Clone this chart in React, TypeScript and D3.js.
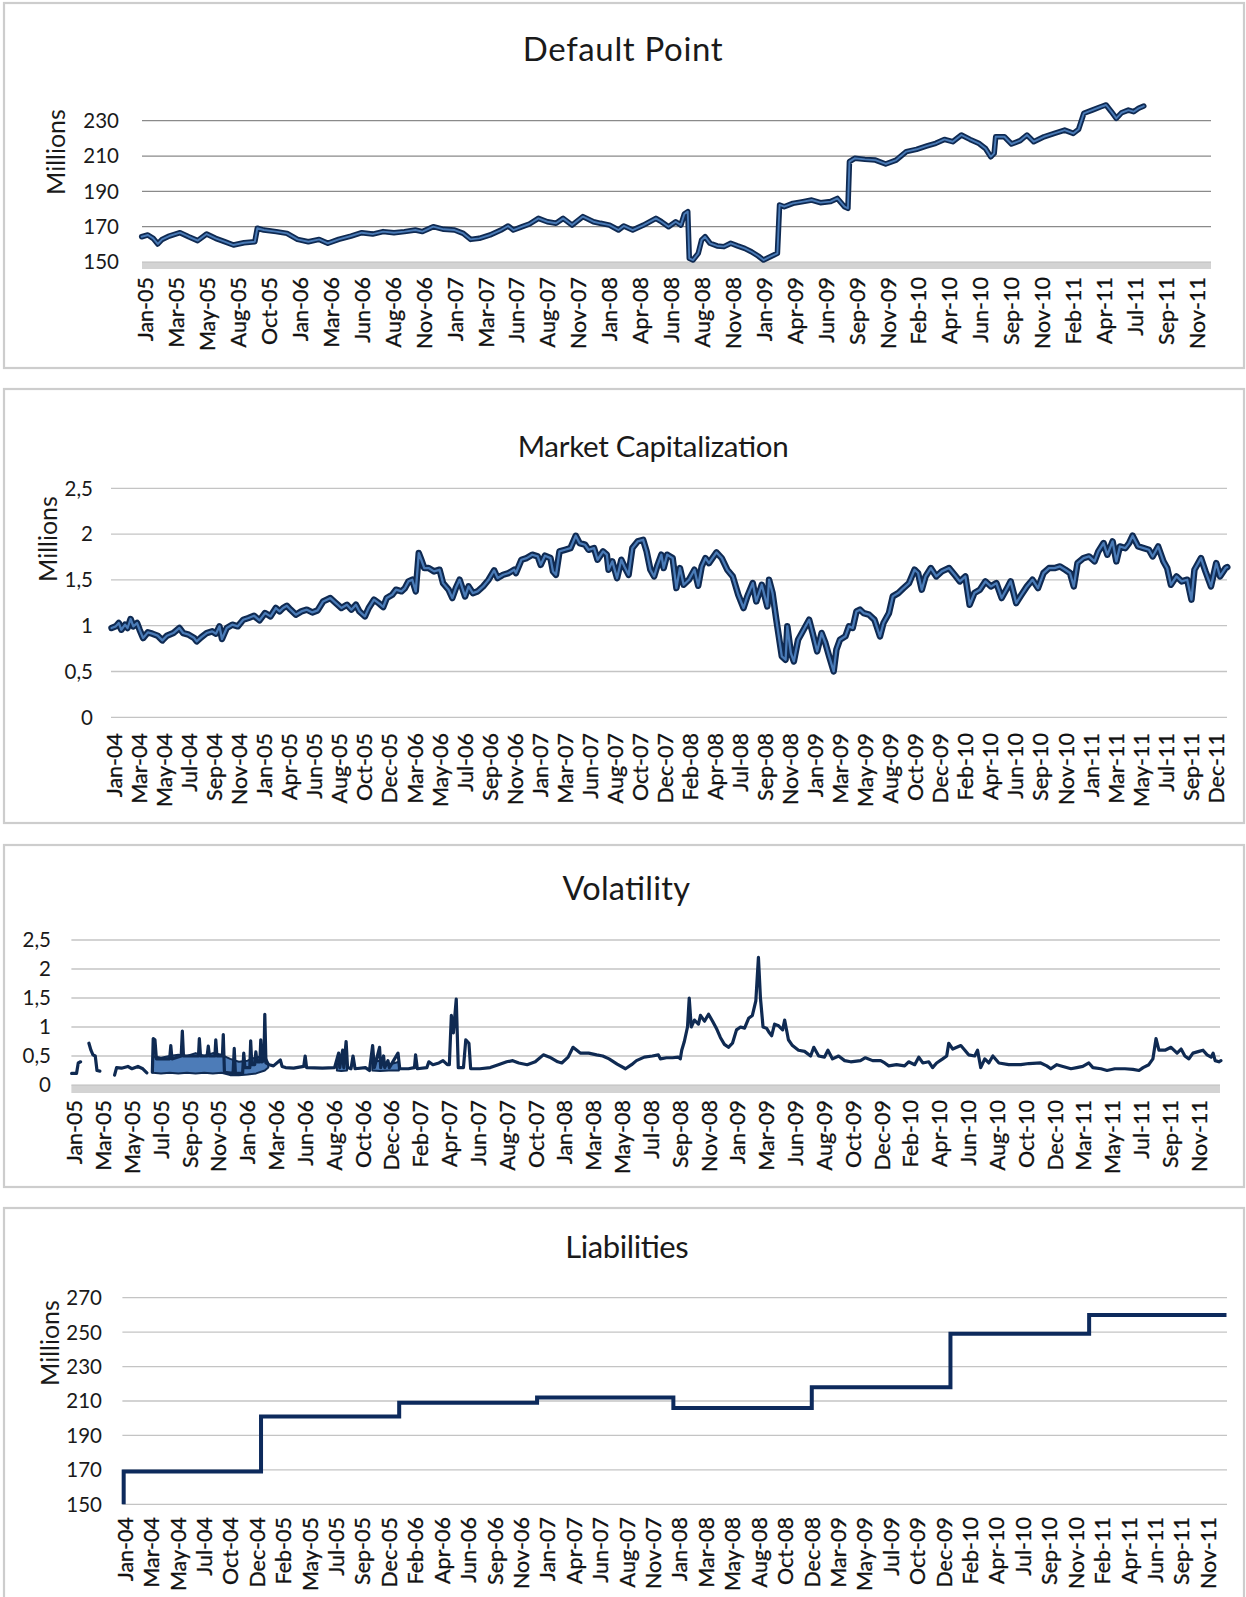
import React from "react";
import * as d3 from "d3";

// ---------------- DATA ----------------
// x positions are expressed in "label units": 0 = first category label, 1 = second label, ...

const dpLabels = ["Jan-05","Mar-05","May-05","Aug-05","Oct-05","Jan-06","Mar-06","Jun-06","Aug-06","Nov-06","Jan-07","Mar-07","Jun-07","Aug-07","Nov-07","Jan-08","Apr-08","Jun-08","Aug-08","Nov-08","Jan-09","Apr-09","Jun-09","Sep-09","Nov-09","Feb-10","Apr-10","Jun-10","Sep-10","Nov-10","Feb-11","Apr-11","Jul-11","Sep-11","Nov-11"];
const dpTicks = [150, 170, 190, 210, 230];
const dpSeries: [number, number][] = [
  [-0.13,164.3],[0.07,165.3],[0.24,163.4],[0.39,160.2],[0.53,162.8],[0.76,164.7],[1.11,166.6],[1.39,164.3],[1.68,162.1],[1.97,165.8],
  [2.26,163.4],[2.55,161.5],[2.84,159.6],[3.18,160.9],[3.53,161.5],[3.61,169.1],[3.82,168.1],[4.22,167.2],[4.57,166.2],[4.91,162.8],
  [5.26,161.5],[5.61,162.8],[5.89,160.6],[6.24,162.8],[6.64,164.7],[6.99,166.6],[7.34,165.8],[7.68,167.2],[8.03,166.6],[8.37,167.2],
  [8.72,168.1],[8.95,167.2],[9.3,170],[9.64,168.5],[9.99,168.1],[10.27,166.2],[10.51,162.8],[10.79,163.4],[11.14,165.3],[11.49,168.1],
  [11.72,170.4],[11.89,168.1],[12.18,170],[12.41,171.5],[12.7,174.7],[12.99,172.8],[13.27,171.9],[13.5,174.7],[13.79,170.9],[14.14,175.7],
  [14.48,172.8],[14.71,171.9],[15.0,170.9],[15.29,168.1],[15.46,170.4],[15.75,168.1],[16.1,170.9],[16.5,174.7],[16.68,172.8],[16.91,170],
  [17.14,172.8],[17.31,170.9],[17.42,177.2],[17.53,178.5],[17.58,152.1],[17.7,151.1],[17.87,154.9],[17.98,162.5],[18.09,164.3],[18.25,160.6],
  [18.48,159.1],[18.7,158.7],[18.92,160.6],[19.14,159.1],[19.37,157.7],[19.59,155.8],[19.81,153.4],[19.98,151.1],[20.2,153],[20.43,154.9],
  [20.5,182.3],[20.65,181.3],[20.93,183.2],[21.26,184.2],[21.54,185.1],[21.82,183.6],[22.15,184.2],[22.37,186],[22.6,181.3],[22.71,180.4],
  [22.76,206.8],[22.93,208.7],[23.26,208.1],[23.6,207.7],[23.93,205.5],[24.27,207.7],[24.6,212.5],[24.93,213.8],[25.27,215.7],[25.55,217.2],
  [25.83,219.4],[26.1,218.1],[26.38,221.9],[26.66,219.4],[26.94,217.2],[27.16,214.3],[27.33,209.6],[27.44,211.5],[27.49,220.9],[27.77,220.9],
  [28.0,216.8],[28.28,218.7],[28.5,221.9],[28.72,218.1],[29.05,220.9],[29.39,222.8],[29.72,224.7],[30.0,222.8],[30.17,225.1],[30.34,234.2],
  [30.61,236],[30.89,237.9],[31.06,238.9],[31.23,235.1],[31.39,231.3],[31.56,234.5],[31.78,236],[31.95,235.1],[32.11,237],[32.28,238.3]
];

const mcLabels = ["Jan-04","Mar-04","May-04","Jul-04","Sep-04","Nov-04","Jan-05","Apr-05","Jun-05","Aug-05","Oct-05","Dec-05","Mar-06","May-06","Jul-06","Sep-06","Nov-06","Jan-07","Mar-07","Jun-07","Aug-07","Oct-07","Dec-07","Feb-08","Apr-08","Jul-08","Sep-08","Nov-08","Jan-09","Mar-09","May-09","Aug-09","Oct-09","Dec-09","Feb-10","Apr-10","Jun-10","Sep-10","Nov-10","Jan-11","Mar-11","May-11","Jul-11","Sep-11","Dec-11"];
const mcTicks = [0, 0.5, 1, 1.5, 2, 2.5];
const mcSeries: [number, number][] = [
  [-0.11,0.975],[0.06,0.993],[0.18,1.029],[0.28,0.956],[0.43,1.011],[0.53,0.975],[0.65,1.073],[0.76,0.993],[0.91,1.029],[1.01,0.956],
  [1.15,0.865],[1.34,0.927],[1.52,0.913],[1.73,0.891],[1.92,0.84],[2.1,0.891],[2.36,0.92],[2.6,0.975],[2.75,0.92],[2.97,0.902],
  [3.19,0.865],[3.29,0.829],[3.48,0.876],[3.69,0.92],[3.91,0.938],[4.06,0.913],[4.2,0.993],[4.3,0.855],[4.49,0.975],[4.71,1.011],
  [4.93,0.993],[5.15,1.065],[5.36,1.084],[5.58,1.109],[5.8,1.058],[6.02,1.138],[6.24,1.102],[6.45,1.193],[6.6,1.156],[6.74,1.193],
  [6.89,1.218],[7.04,1.175],[7.25,1.12],[7.47,1.156],[7.69,1.175],[7.91,1.145],[8.12,1.167],[8.34,1.265],[8.63,1.302],[8.85,1.247],
  [9.07,1.193],[9.29,1.229],[9.47,1.175],[9.65,1.229],[9.79,1.156],[10.01,1.102],[10.16,1.193],[10.37,1.284],[10.59,1.24],[10.74,1.204],
  [10.88,1.302],[11.1,1.338],[11.25,1.393],[11.47,1.375],[11.61,1.411],[11.75,1.484],[11.9,1.502],[12.04,1.375],[12.16,1.793],[12.26,1.72],
  [12.38,1.629],[12.55,1.629],[12.77,1.593],[12.99,1.611],[13.13,1.465],[13.35,1.393],[13.5,1.302],[13.64,1.411],[13.79,1.502],[14.01,1.32],
  [14.15,1.429],[14.32,1.356],[14.51,1.375],[14.73,1.429],[14.95,1.502],[15.17,1.604],[15.31,1.52],[15.53,1.556],[15.75,1.575],[15.97,1.611],
  [16.04,1.575],[16.26,1.72],[16.47,1.738],[16.69,1.775],[16.91,1.756],[17.03,1.665],[17.2,1.764],[17.42,1.738],[17.52,1.593],[17.64,1.556],
  [17.78,1.811],[18.0,1.829],[18.22,1.847],[18.43,1.982],[18.58,1.902],[18.8,1.884],[18.94,1.829],[19.16,1.847],[19.3,1.72],[19.52,1.811],
  [19.67,1.775],[19.74,1.611],[19.89,1.702],[20.08,1.52],[20.25,1.72],[20.37,1.647],[20.54,1.556],[20.69,1.847],[20.9,1.92],[21.12,1.938],
  [21.26,1.811],[21.41,1.611],[21.56,1.538],[21.7,1.665],[21.85,1.775],[21.94,1.629],[22.08,1.775],[22.3,1.738],[22.45,1.411],[22.59,1.629],
  [22.74,1.447],[22.95,1.502],[23.17,1.611],[23.32,1.436],[23.46,1.647],[23.61,1.738],[23.75,1.684],[24.05,1.8],[24.26,1.738],[24.48,1.611],
  [24.7,1.538],[24.92,1.338],[25.13,1.193],[25.28,1.32],[25.5,1.465],[25.64,1.265],[25.86,1.447],[26.08,1.211],[26.15,1.502],[26.29,1.356],
  [26.44,1.065],[26.66,0.665],[26.81,0.629],[26.88,0.993],[27.02,0.702],[27.14,0.611],[27.31,0.847],[27.53,0.956],[27.75,1.065],[27.89,0.92],
  [28.07,0.72],[28.25,0.92],[28.4,0.811],[28.55,0.665],[28.73,0.502],[28.84,0.738],[28.98,0.847],[29.2,0.884],[29.34,0.993],[29.49,0.975],
  [29.64,1.156],[29.78,1.175],[29.93,1.138],[30.14,1.12],[30.36,1.065],[30.58,0.884],[30.72,1.029],[30.94,1.138],[31.09,1.32],[31.31,1.356],
  [31.52,1.411],[31.74,1.465],[31.96,1.611],[32.1,1.575],[32.25,1.393],[32.4,1.538],[32.61,1.629],[32.83,1.538],[33.05,1.593],[33.34,1.629],
  [33.56,1.556],[33.77,1.484],[33.99,1.538],[34.16,1.229],[34.35,1.356],[34.57,1.393],[34.79,1.484],[35.01,1.429],[35.23,1.465],[35.44,1.302],
  [35.66,1.411],[35.8,1.484],[36.02,1.247],[36.23,1.338],[36.45,1.429],[36.67,1.502],[36.89,1.411],[37.11,1.575],[37.33,1.629],[37.55,1.629],
  [37.77,1.647],[37.98,1.611],[38.17,1.575],[38.32,1.429],[38.47,1.684],[38.71,1.738],[38.93,1.756],[39.15,1.702],[39.3,1.811],[39.51,1.902],
  [39.66,1.775],[39.87,1.92],[40.02,1.702],[40.16,1.865],[40.38,1.847],[40.53,1.902],[40.67,1.982],[40.89,1.865],[41.11,1.847],[41.32,1.829],
  [41.47,1.756],[41.69,1.865],[41.9,1.702],[42.05,1.629],[42.2,1.447],[42.42,1.538],[42.63,1.484],[42.85,1.502],[43.02,1.284],[43.14,1.611],
  [43.4,1.738],[43.58,1.593],[43.8,1.429],[44.01,1.684],[44.16,1.538],[44.38,1.629],[44.45,1.64]
];

const volLabels = ["Jan-05","Mar-05","May-05","Jul-05","Sep-05","Nov-05","Jan-06","Mar-06","Jun-06","Aug-06","Oct-06","Dec-06","Feb-07","Apr-07","Jun-07","Aug-07","Oct-07","Jan-08","Mar-08","May-08","Jul-08","Sep-08","Nov-08","Jan-09","Mar-09","Jun-09","Aug-09","Oct-09","Dec-09","Feb-10","Apr-10","Jun-10","Aug-10","Oct-10","Dec-10","Mar-11","May-11","Jul-11","Sep-11","Nov-11"];
const volTicks = [0, 0.5, 1, 1.5, 2, 2.5];
// null = missing observations (gaps in the line)
const volSeries: [number, number | null][] = [
  [-0.1,0.2],[0.07,0.2],[0.13,0.38],[0.21,0.4],[0.22,null],
  [0.5,0.72],[0.57,0.6],[0.64,0.52],[0.72,0.5],[0.78,0.25],[0.88,0.24],[0.9,null],
  [1.39,0.17],[1.46,0.3],[1.63,0.29],[1.85,0.32],[1.99,0.28],[2.2,0.32],[2.37,0.28],[2.51,0.21],[2.55,null],
  [2.7,0.22],[2.73,0.8],[2.79,0.78],[2.84,0.45],[3.3,0.45],[3.34,0.68],[3.38,0.45],[3.7,0.5],[3.74,0.93],[3.78,0.5],
  [4.3,0.5],[4.33,0.8],[4.37,0.5],[4.6,0.5],[4.64,0.67],[4.68,0.5],[4.87,0.5],[4.9,0.78],[4.94,0.5],[5.13,0.5],
  [5.16,0.87],[5.2,0.22],[5.5,0.2],[5.54,0.63],[5.58,0.2],[5.83,0.2],[5.87,0.55],[5.91,0.3],[6.08,0.3],[6.11,0.76],
  [6.15,0.35],[6.25,0.35],[6.29,0.57],[6.33,0.4],[6.43,0.4],[6.46,0.78],[6.5,0.4],[6.57,0.42],[6.6,1.22],[6.64,0.38],
  [6.75,0.35],[6.9,0.33],[7.14,0.43],[7.2,0.32],[7.32,0.3],[7.6,0.29],[7.95,0.32],[8.0,0.5],[8.05,0.3],[8.6,0.29],
  [9.02,0.3],[9.16,0.55],[9.2,0.3],[9.3,0.6],[9.34,0.3],[9.42,0.75],[9.47,0.3],[9.59,0.28],[9.66,0.5],[9.73,0.28],
  [10.09,0.3],[10.23,0.25],[10.34,0.68],[10.4,0.3],[10.58,0.65],[10.62,0.3],[10.72,0.5],[10.76,0.3],[10.87,0.42],[10.92,0.3],
  [11.22,0.55],[11.28,0.28],[11.58,0.28],[11.79,0.3],[11.83,0.52],[11.89,0.28],[12.22,0.3],[12.29,0.4],[12.43,0.35],[12.64,0.38],
  [12.78,0.42],[12.93,0.35],[13.0,0.35],[13.07,1.2],[13.14,0.9],[13.24,1.48],[13.31,0.3],[13.49,0.3],[13.57,0.78],[13.68,0.72],
  [13.74,0.28],[14.06,0.28],[14.42,0.3],[14.7,0.35],[14.99,0.4],[15.2,0.42],[15.41,0.38],[15.7,0.35],[15.98,0.4],[16.26,0.52],
  [16.48,0.48],[16.76,0.4],[16.9,0.38],[17.12,0.48],[17.29,0.65],[17.54,0.55],[17.83,0.55],[18.11,0.52],[18.32,0.5],[18.54,0.45],
  [18.82,0.36],[19.11,0.28],[19.32,0.35],[19.49,0.42],[19.76,0.48],[20.04,0.5],[20.25,0.52],[20.32,0.45],[20.53,0.47],[20.74,0.47],
  [20.94,0.48],[21.01,0.45],[21.06,0.6],[21.15,0.75],[21.26,1.0],[21.32,1.5],[21.39,1.0],[21.5,1.12],[21.64,1.05],[21.71,1.2],
  [21.85,1.1],[21.99,1.22],[22.13,1.1],[22.26,0.98],[22.4,0.82],[22.54,0.7],[22.68,0.65],[22.82,0.72],[22.96,0.95],[23.1,1.0],
  [23.24,0.98],[23.38,1.15],[23.51,1.2],[23.63,1.45],[23.72,2.2],[23.79,1.5],[23.88,1.0],[24.0,0.98],[24.1,0.9],[24.18,0.85],
  [24.28,1.05],[24.42,1.02],[24.56,0.95],[24.63,1.12],[24.76,0.78],[24.9,0.68],[25.11,0.6],[25.32,0.58],[25.53,0.5],[25.64,0.65],
  [25.81,0.5],[26.01,0.48],[26.13,0.6],[26.29,0.45],[26.5,0.5],[26.71,0.42],[26.92,0.4],[27.26,0.42],[27.43,0.47],[27.68,0.42],
  [27.96,0.42],[28.1,0.38],[28.24,0.33],[28.51,0.35],[28.79,0.33],[28.93,0.4],[29.14,0.35],[29.28,0.48],[29.42,0.38],[29.63,0.4],
  [29.76,0.3],[29.9,0.38],[30.11,0.45],[30.25,0.5],[30.32,0.72],[30.46,0.62],[30.6,0.65],[30.74,0.68],[30.88,0.6],[31.01,0.52],
  [31.22,0.5],[31.32,0.6],[31.43,0.3],[31.57,0.45],[31.71,0.38],[31.85,0.5],[32.06,0.38],[32.4,0.35],[32.82,0.35],[33.1,0.37],
  [33.51,0.38],[33.72,0.33],[33.86,0.28],[34.07,0.35],[34.28,0.32],[34.56,0.28],[34.76,0.3],[34.97,0.32],[35.18,0.38],[35.32,0.3],
  [35.6,0.28],[35.81,0.25],[36.08,0.28],[36.43,0.28],[36.71,0.27],[36.92,0.25],[37.06,0.3],[37.26,0.35],[37.4,0.45],[37.51,0.8],
  [37.61,0.6],[37.82,0.6],[38.03,0.65],[38.24,0.55],[38.38,0.62],[38.51,0.5],[38.65,0.45],[38.79,0.55],[39.0,0.58],[39.14,0.6],
  [39.28,0.52],[39.42,0.48],[39.49,0.55],[39.56,0.42],[39.69,0.4],[39.76,0.42]
];
// densely oscillating stretches of the daily volatility: [position, low, high]
const volBand2005: [number, number, number][] = [
  [2.72,0.21,0.5],[3.0,0.2,0.47],[3.3,0.21,0.5],[3.6,0.2,0.52],[3.9,0.21,0.5],[4.2,0.2,0.55],[4.5,0.21,0.5],
  [4.8,0.2,0.55],[5.1,0.21,0.52],[5.4,0.17,0.45],[5.7,0.17,0.4],[6.0,0.18,0.42],[6.3,0.2,0.48],[6.6,0.25,0.5],[6.72,0.3,0.38]
];
const volBandAug06: [number, number, number][] = [[9.1,0.25,0.35],[9.25,0.24,0.45],[9.45,0.25,0.45]];
const volBandDec06: [number, number, number][] = [[10.33,0.25,0.4],[10.6,0.24,0.42],[10.9,0.25,0.35],[11.25,0.25,0.4]];

const liLabels = ["Jan-04","Mar-04","May-04","Jul-04","Oct-04","Dec-04","Feb-05","May-05","Jul-05","Sep-05","Dec-05","Feb-06","Apr-06","Jun-06","Sep-06","Nov-06","Jan-07","Apr-07","Jun-07","Aug-07","Nov-07","Jan-08","Mar-08","May-08","Aug-08","Oct-08","Dec-08","Mar-09","May-09","Jul-09","Oct-09","Dec-09","Feb-10","Apr-10","Jul-10","Sep-10","Nov-10","Feb-11","Apr-11","Jun-11","Sep-11","Nov-11"];
const liTicks = [150, 170, 190, 210, 230, 250, 270];
const liSeries: [number, number][] = [
  [-0.05,150],[-0.05,169],[5.15,201],[10.38,209],[15.6,212],[20.76,206],[26.0,218],[31.25,249],[36.5,260],[41.7,260]
];

// ---------------- LAYOUT ----------------
const FONT = "Lato, 'Open Sans', sans-serif";
const commaFmt = d3.formatLocale({ decimal: ",", thousands: ".", grouping: [3], currency: ["", ""] }).format(".1~f");

type PanelCfg = {
  frame: [number, number, number, number];
  title: string; titleX: number; titleY: number; titleW: number; titleSize: number;
  millions: [number, number] | null;
  ticks: number[]; yDomain: [number, number]; yRange: [number, number]; tickRight: number;
  plotX: [number, number];
  labels: string[]; labelRange: [number, number]; labelTop: number;
  floor: number | null; grid: string;
};

function Panel({ cfg, children }: { cfg: PanelCfg; children: (x: d3.ScaleLinear<number, number>, y: d3.ScaleLinear<number, number>) => React.ReactNode }) {
  const x = d3.scaleLinear().domain([0, cfg.labels.length - 1]).range(cfg.labelRange);
  const y = d3.scaleLinear().domain(cfg.yDomain).range(cfg.yRange);
  const [fx, fy, fw, fh] = cfg.frame;
  return (
    <g>
      <rect x={fx} y={fy} width={fw} height={fh} fill="#fff" stroke="#cdcdcd" strokeWidth={2.2} />
      <text x={cfg.titleX} y={cfg.titleY} textAnchor="middle" fontSize={cfg.titleSize} fill="#1a1a1a" fontFamily={FONT}
        textLength={cfg.titleW} lengthAdjust="spacing">{cfg.title}</text>
      {cfg.millions && (
        <text transform={`translate(${cfg.millions[0]},${cfg.millions[1]}) rotate(-90)`} textAnchor="middle" dy="0.35em" fontSize={25} fill="#1a1a1a" fontFamily={FONT}>Millions</text>
      )}
      {cfg.ticks.map((t) => (
        <g key={t}>
          {!(cfg.floor !== null && t === cfg.yDomain[0]) && (
            <line x1={cfg.plotX[0]} x2={cfg.plotX[1]} y1={y(t)} y2={y(t)} stroke={cfg.grid} strokeWidth={1.3} />
          )}
          <text x={cfg.tickRight} y={y(t)} dy="0.36em" textAnchor="end" fontSize={20.5} fill="#1a1a1a" fontFamily={FONT}>{commaFmt(t)}</text>
        </g>
      ))}
      {cfg.floor !== null && (
        <g>
          <rect x={cfg.plotX[0]} y={y(cfg.yDomain[0])} width={cfg.plotX[1] - cfg.plotX[0]} height={cfg.floor} fill="#d3d3d3" />
          <line x1={cfg.plotX[0]} x2={cfg.plotX[1]} y1={y(cfg.yDomain[0])} y2={y(cfg.yDomain[0])} stroke="#bdbdbd" strokeWidth={1.2} />
        </g>
      )}
      {cfg.labels.map((l, i) => (
        <text key={l + i} transform={`translate(${x(i)},${cfg.labelTop}) rotate(-90)`} textAnchor="end" dy="0.36em"
          fontSize={21.5} fill="#111" stroke="#111" strokeWidth={0.3} fontFamily={FONT}>{l}</text>
      ))}
      {children(x, y)}
    </g>
  );
}

const panels: PanelCfg[] = [
  { frame: [4, 3, 1240, 365], title: "Default Point", titleX: 622.7, titleY: 61, titleW: 200, titleSize: 33, millions: [56, 152],
    ticks: dpTicks, yDomain: [150, 230], yRange: [262, 120.7], tickRight: 119, plotX: [142, 1211],
    labels: dpLabels, labelRange: [145.7, 1197], labelTop: 277, floor: 7, grid: "#8a8a8a" },
  { frame: [4, 389, 1240, 434], title: "Market Capitalization", titleX: 653.2, titleY: 457, titleW: 271, titleSize: 29.5, millions: [48.5, 539],
    ticks: mcTicks, yDomain: [0, 2.5], yRange: [717.3, 488.3], tickRight: 93, plotX: [111, 1227],
    labels: mcLabels, labelRange: [114.3, 1216], labelTop: 733, floor: null, grid: "#c4c4c4" },
  { frame: [4, 845, 1240, 342], title: "Volatility", titleX: 626.2, titleY: 900, titleW: 127.6, titleSize: 32.5, millions: null,
    ticks: volTicks, yDomain: [0, 2.5], yRange: [1085, 940], tickRight: 51, plotX: [71.4, 1220],
    labels: volLabels, labelRange: [74.5, 1199], labelTop: 1100, floor: 8, grid: "#c4c4c4" },
  { frame: [4, 1208, 1240, 400], title: "Liabilities", titleX: 627, titleY: 1258, titleW: 123.5, titleSize: 31, millions: [50, 1343],
    ticks: liTicks, yDomain: [150, 270], yRange: [1504.3, 1297.7], tickRight: 102, plotX: [122.4, 1227],
    labels: liLabels, labelRange: [125, 1208], labelTop: 1517, floor: null, grid: "#c4c4c4" },
];

const DARK = "#0f2a52";
const LIGHT = "#4a7bb7";

function Glossy({ d, w }: { d: string | null; w: number }) {
  return (
    <g fill="none" strokeLinejoin="round" strokeLinecap="round">
      <path d={d ?? ""} stroke={DARK} strokeWidth={w} />
      <path d={d ?? ""} stroke={LIGHT} strokeWidth={w * 0.35} />
    </g>
  );
}

export default function App() {
  return (
    <div style={{ position: "absolute", left: 0, top: 0, width: 1246, height: 1597, background: "#fff" }}>
      <svg width={1246} height={1597} style={{ display: "block" }}>
        <rect width={1246} height={1597} fill="#fff" />
        <Panel cfg={panels[0]}>
          {(x, y) => <Glossy d={d3.line<[number, number]>().x((d) => x(d[0])).y((d) => y(d[1]))(dpSeries)} w={5.5} />}
        </Panel>
        <Panel cfg={panels[1]}>
          {(x, y) => <Glossy d={d3.line<[number, number]>().x((d) => x(d[0])).y((d) => y(d[1]))(mcSeries)} w={6.5} />}
        </Panel>
        <Panel cfg={panels[2]}>
          {(x, y) => {
            const area = d3.area<[number, number, number]>().x((d) => x(d[0])).y0((d) => y(d[1])).y1((d) => y(d[2]));
            const line = d3.line<[number, number | null]>().defined((d) => d[1] !== null).x((d) => x(d[0])).y((d) => y(d[1] as number));
            return (
              <g>
                {[volBand2005, volBandAug06, volBandDec06].map((b, i) => (
                  <path key={i} d={area(b) ?? ""} fill="#4d7cb8" stroke={DARK} strokeWidth={2} strokeLinejoin="round" />
                ))}
                <path d={line(volSeries) ?? ""} fill="none" stroke={DARK} strokeWidth={3.2} strokeLinejoin="round" strokeLinecap="round" />
              </g>
            );
          }}
        </Panel>
        <Panel cfg={panels[3]}>
          {(x, y) => (
            <path d={d3.line<[number, number]>().x((d) => x(d[0])).y((d) => y(d[1])).curve(d3.curveStepAfter)(liSeries) ?? ""}
              fill="none" stroke="#0d2a5c" strokeWidth={4} />
          )}
        </Panel>
      </svg>
    </div>
  );
}
